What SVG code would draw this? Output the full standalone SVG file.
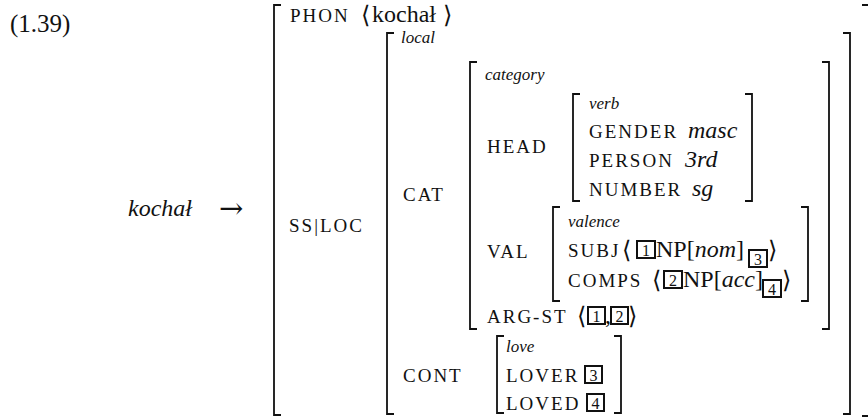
<svg xmlns="http://www.w3.org/2000/svg" width="868" height="417" viewBox="0 0 868 417">
  <defs>
    <style>
      text { font-family: "Liberation Serif", "DejaVu Serif", serif; fill: #111; }
      .num { font-size: 25px; }
      .rm { font-size: 24px; }
      .it { font-size: 24px; font-style: italic; }
      .sc { font-size: 19px; letter-spacing: 2px; }
      .ty { font-size: 17px; font-style: italic; }
      .ang { font-size: 24px; font-family: "DejaVu Serif", "DejaVu Sans", serif; }
      .arrow { font-size: 29px; font-family: "DejaVu Serif", "DejaVu Sans", serif; }
      .tagd { font-size: 16px; text-anchor: middle; }
      .br { fill: none; stroke: #111; stroke-width: 1.8; }
      .box { fill: none; stroke: #111; stroke-width: 2; }
    </style>
  </defs>

  <rect width="868" height="417" fill="#fff"/>

  <!-- example number -->
  <text class="num" x="10" y="32">(1.39)</text>

  <!-- left-hand side of the lexical rule -->
  <g id="lhs">
    <text class="it" x="128" y="216">kochał</text>
  </g>

  <!-- rule arrow -->
  <g id="connectors">
    <text class="arrow" x="219" y="218">→</text>
  </g>

  <!-- outermost structure: word -->
  <g id="avm-word">
    <path class="br" d="M281 5 H274 V415 H281"/>
    <path class="br" d="M862 5 H869.5 V416 H862"/>
    <text class="sc" x="290" y="22">PHON</text>
    <text class="ang" x="361" y="23">⟨</text>
    <text class="rm" x="372" y="22" font-size="25">kochał</text>
    <text class="ang" x="443" y="23">⟩</text>
    <text class="sc" x="289" y="232">SS|LOC</text>
  </g>

  <!-- local value -->
  <g id="avm-local">
    <path class="br" d="M394 33 H387 V414 H394"/>
    <path class="br" d="M843 33 H850 V414 H843"/>
    <text class="ty" x="401" y="43">local</text>
    <text class="sc" x="403" y="201">CAT</text>
    <text class="sc" x="403" y="382">CONT</text>
  </g>

  <!-- category value -->
  <g id="avm-category">
    <path class="br" d="M477 62 H470 V329 H477"/>
    <path class="br" d="M822 62 H829 V329 H822"/>
    <text class="ty" x="485" y="80">category</text>
    <text class="sc" x="487" y="153">HEAD</text>
    <text class="sc" x="487" y="258">VAL</text>
    <text class="sc" x="487" y="323">ARG-ST</text>
    <text class="ang" x="577" y="324">⟨</text>
    <rect class="box" x="588" y="307" width="17" height="17"/>
    <text class="tagd" x="596.5" y="321.5">1</text>
    <text class="rm" x="605" y="323">,</text>
    <rect class="box" x="611" y="307" width="17" height="17"/>
    <text class="tagd" x="619.5" y="321.5">2</text>
    <text class="ang" x="628" y="324">⟩</text>
  </g>

  <!-- head value -->
  <g id="avm-verb">
    <path class="br" d="M580 94 H573 V201 H580"/>
    <path class="br" d="M745 94 H752 V201 H745"/>
    <text class="ty" x="589" y="109">verb</text>
    <text class="sc" x="589" y="138">GENDER</text>
    <text class="it" x="688" y="138">masc</text>
    <text class="sc" x="589" y="167">PERSON</text>
    <text class="it" x="685" y="167">3rd</text>
    <text class="sc" x="589" y="196">NUMBER</text>
    <text class="it" x="692" y="196">sg</text>
  </g>

  <!-- valence value -->
  <g id="avm-valence">
    <path class="br" d="M560 207 H553 V301 H560"/>
    <path class="br" d="M801 207 H808 V301 H801"/>
    <text class="ty" x="568" y="227">valence</text>

    <text class="sc" x="568" y="257">SUBJ</text>
    <text class="ang" x="622" y="258">⟨</text>
    <rect class="box" x="637" y="241" width="18" height="17"/>
    <text class="tagd" x="646" y="255.5">1</text>
    <text class="rm" x="656" y="257">NP[<tspan font-style="italic">nom</tspan>]</text>
    <rect class="box" x="749" y="250" width="18" height="17"/>
    <text class="tagd" x="758" y="264.5">3</text>
    <text class="ang" x="768" y="258">⟩</text>

    <text class="sc" x="568" y="287">COMPS</text>
    <text class="ang" x="652" y="288">⟨</text>
    <rect class="box" x="664" y="271" width="18" height="17"/>
    <text class="tagd" x="673" y="285.5">2</text>
    <text class="rm" x="683" y="287">NP[<tspan font-style="italic">acc</tspan>]</text>
    <rect class="box" x="763" y="280" width="18" height="17"/>
    <text class="tagd" x="772" y="294.5">4</text>
    <text class="ang" x="782" y="288">⟩</text>
  </g>

  <!-- content value -->
  <g id="avm-love">
    <path class="br" d="M504 336 H497 V413 H504"/>
    <path class="br" d="M614 336 H621 V413 H614"/>
    <text class="ty" x="506" y="352">love</text>
    <text class="sc" x="506" y="382">LOVER</text>
    <rect class="box" x="585" y="366" width="17" height="17"/>
    <text class="tagd" x="593.5" y="380.5">3</text>
    <text class="sc" x="506" y="410">LOVED</text>
    <rect class="box" x="587" y="394" width="17" height="17"/>
    <text class="tagd" x="595.5" y="408.5">4</text>
  </g>
</svg>
